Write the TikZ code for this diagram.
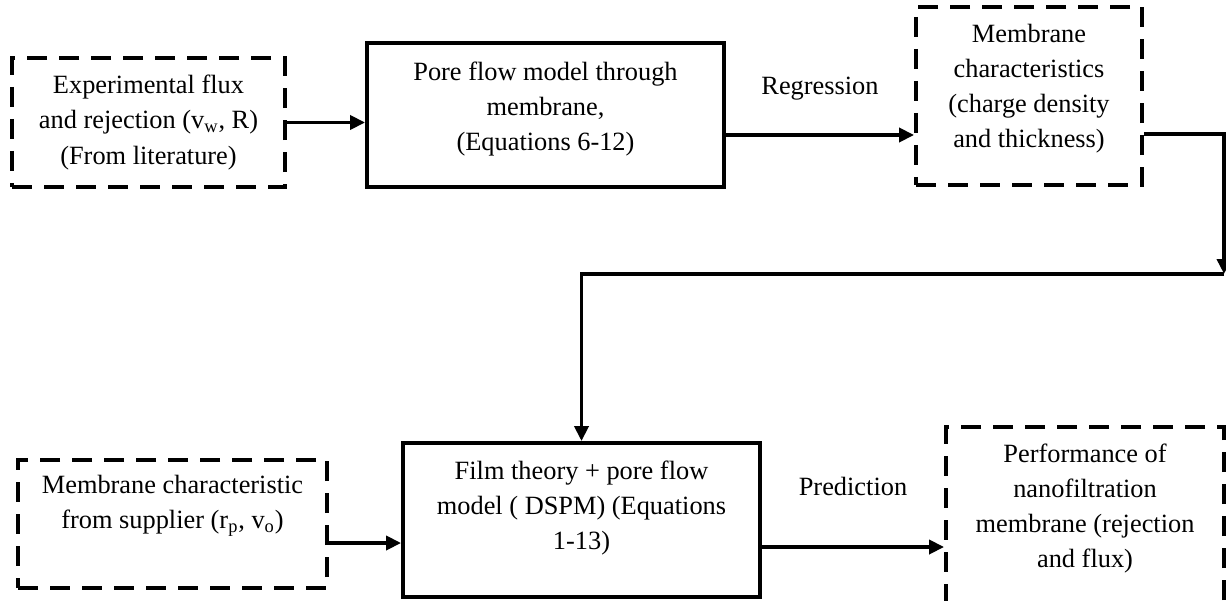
\documentclass[tikz,border=0pt]{standalone}
\usepackage{fontspec}
\setmainfont{Liberation Serif}
\usetikzlibrary{arrows.meta}

\begin{document}
\begin{tikzpicture}[
    txt/.style={align=center, font=\fontsize{15}{20}\selectfont},
    solidbox/.style={draw, line width=2.2pt},
    dashbox/.style={draw, line width=2.2pt, dash pattern=on 0.4cm off 0.24cm},
    arr/.style={line width=2.1pt, -{Triangle[length=0.3cm,width=0.28cm]}}
]
    \useasboundingbox (0,0) rectangle (24.52,12);

    % --- Boxes ---
    \node[dashbox, minimum width=5.46cm, minimum height=2.58cm] (exp) at (2.97,9.55) {};
    \node[solidbox, minimum width=7.14cm, minimum height=2.88cm] (pore) at (10.91,9.70) {};
    \node[dashbox, minimum width=4.52cm, minimum height=3.56cm] (mem) at (20.58,10.08) {};
    \node[dashbox, minimum width=6.18cm, minimum height=2.56cm] (sup) at (3.45,1.52) {};
    \node[solidbox, minimum width=7.14cm, minimum height=3.08cm] (film) at (11.63,1.60) {};
    \node[dashbox, minimum width=5.56cm, minimum height=3.66cm] (perf) at (21.70,1.63) {};

    % --- Texts ---
    \node[txt] (exptext) at (exp) {Experimental flux\\and rejection (v\textsubscript{w}, R)\\(From literature)};
    \node[txt] (poretext) at ([yshift=0.12cm]pore.center) {Pore flow model through\\membrane,\\(Equations 6-12)};
    \node[txt] (memtext) at ([yshift=0.15cm]mem.center) {Membrane\\characteristics\\(charge density\\and thickness)};
    \node[txt] (suptext) at ([yshift=0.37cm]sup.center) {Membrane characteristic\\from supplier (r\textsubscript{p}, v\textsubscript{o})};
    \node[txt] (filmtext) at ([yshift=0.24cm]film.center) {Film theory + pore flow\\model ( DSPM) (Equations\\1-13)};
    \node[txt] (perftext) at ([yshift=0.2cm]perf.center) {Performance of\\nanofiltration\\membrane (rejection\\and flux)};

    % --- Turning point on the right ---
    \coordinate (turn) at (24.48,6.52);

    % --- Arrows ---
    \draw[arr] (exp.east) -- (exp.east -| pore.west);
    \draw[arr] ([yshift=-0.4cm]pore.east) -- ([yshift=-0.4cm]pore.east -| mem.west)
        node[txt, midway, above=0.55cm] (reg) {Regression};
    \draw[arr] ([yshift=-0.76cm]mem.east) -| (turn);
    \draw[arr] (turn) -| (film.north);
    \draw[arr] ([yshift=-0.38cm]sup.east) -- ([yshift=-0.38cm]sup.east -| film.west);
    \draw[arr] ([yshift=-0.54cm]film.east) -- ([yshift=-0.54cm]film.east -| perf.west)
        node[txt, midway, above=0.87cm] (pred) {Prediction};

\end{tikzpicture}
\end{document}
